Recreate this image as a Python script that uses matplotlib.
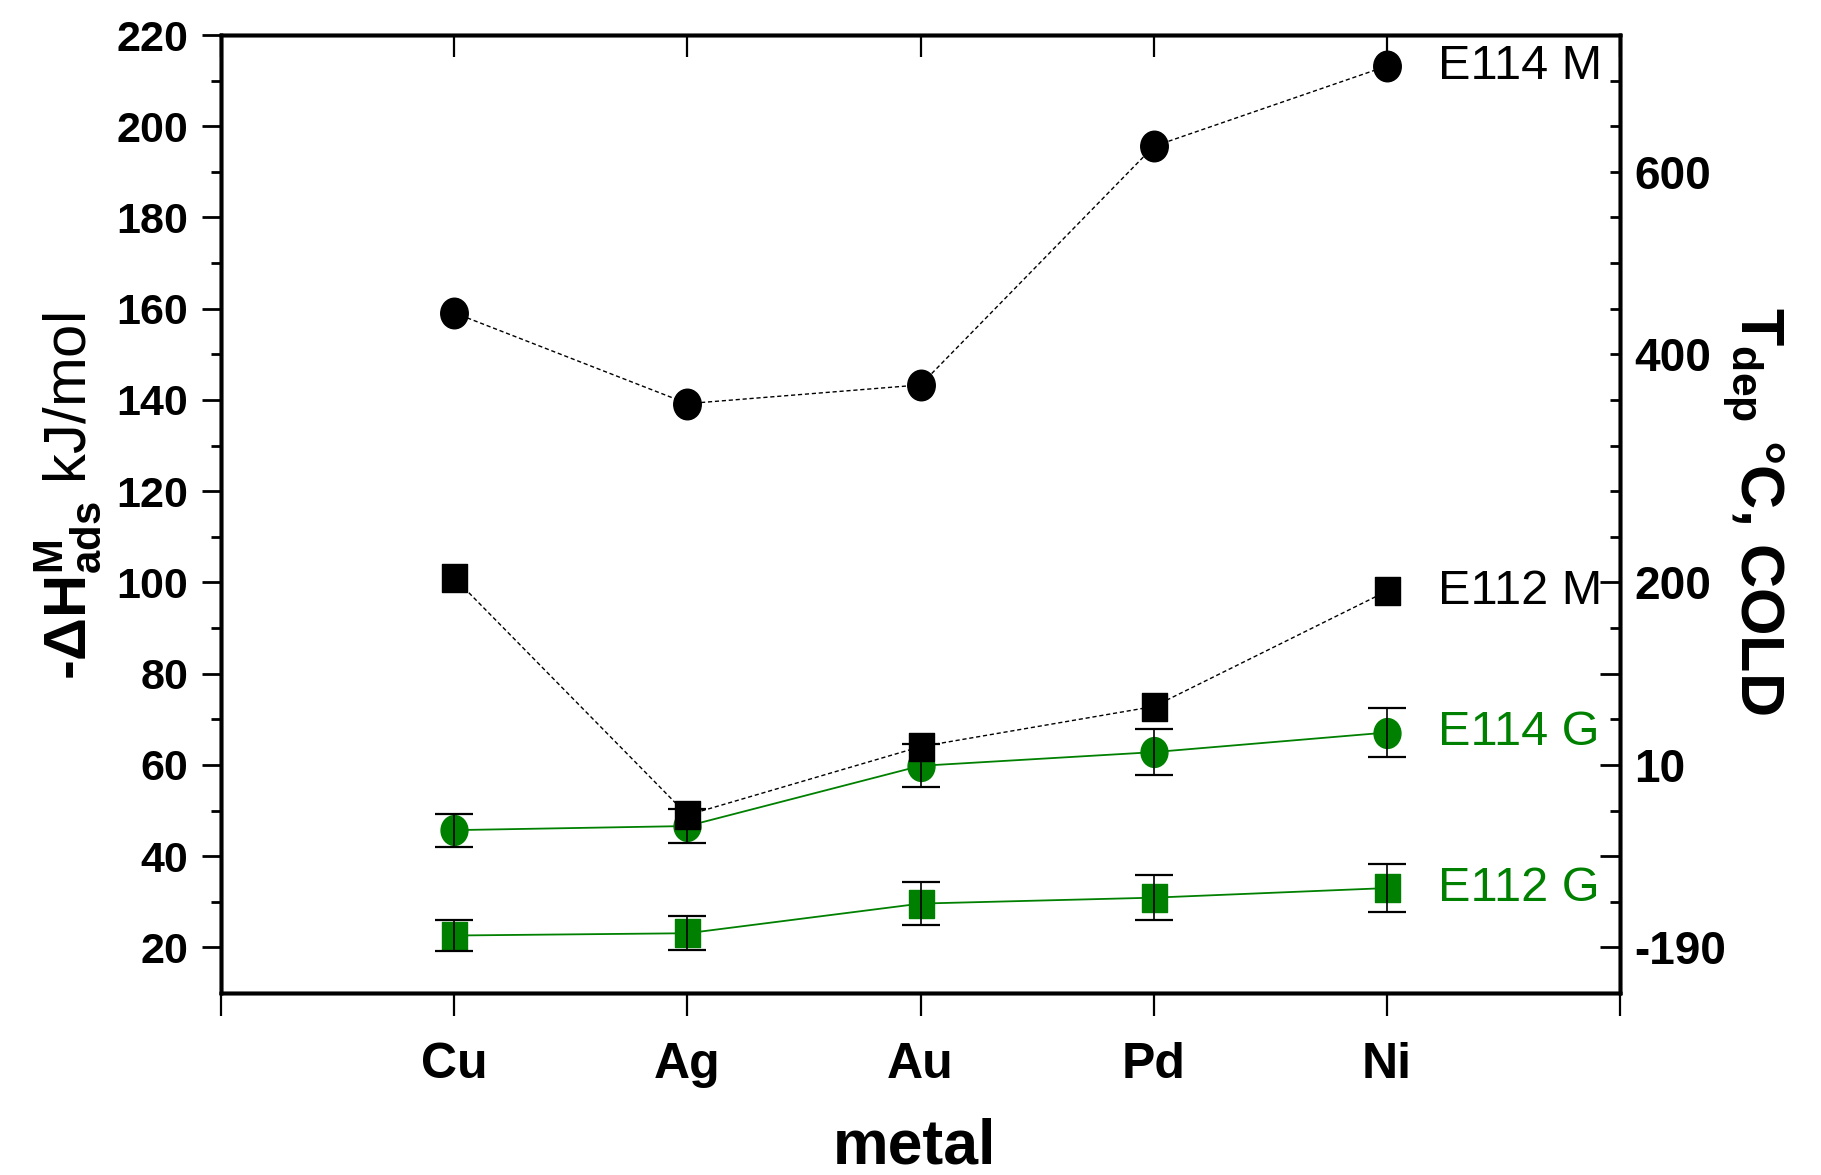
import matplotlib
matplotlib.use("Agg")
import matplotlib.pyplot as plt
from matplotlib import font_manager
from matplotlib.path import Path
from matplotlib.transforms import Affine2D

# --- data (left axis: -dH_ads in kJ/mol) ---
metals = ["Cu", "Ag", "Au", "Pd", "Ni"]
e114_m = [159.1, 139.2, 143.3, 195.6, 213.2]
e112_m = [101.0, 49.0, 64.0, 72.8, 98.1]
e114_g = [45.7, 46.6, 59.8, 62.8, 67.1]
e114_g_err = [3.6, 3.8, 4.7, 5.1, 5.4]
e112_g = [22.6, 23.1, 29.6, 30.9, 33.0]
e112_g_err = [3.5, 3.7, 4.7, 4.9, 5.2]
series_names = ["E114 M", "E112 M", "E114 G", "E112 G"]

# right axis (T_dep, COLD) is only a relabelling of left-axis positions
tdep_major_pos = [20, 40, 60, 80, 100]
tdep_major_lab = ["-190", "", "10", "", "200"]
tdep_minor_pos = [30, 50, 70, 90, 110, 120, 130, 140, 150, 160, 170, 180, 190, 200, 210]
tdep_minor_lab = ["", "", "", "", "", "", "", "", "400", "", "", "", "600", "", ""]

GREEN = "#008000"

names = {f.name for f in font_manager.fontManager.ttflist}
narrow = "Liberation Sans Narrow" if "Liberation Sans Narrow" in names else "Liberation Sans"
plt.rcParams["font.family"] = ["Liberation Sans", "DejaVu Sans"]
plt.rcParams["mathtext.fontset"] = "custom"
plt.rcParams["mathtext.rm"] = "Liberation Sans"
plt.rcParams["mathtext.bf"] = "Liberation Sans:bold"
plt.rcParams["mathtext.it"] = "Liberation Sans:italic"

# slightly tall markers, like the original
ellipse = Path.unit_circle().transformed(Affine2D().scale(0.9, 1.0))
rect = Path.unit_rectangle().transformed(Affine2D().translate(-0.5, -0.5).scale(0.9, 1.0))

fig = plt.figure(figsize=(18.21, 11.75), dpi=100)
ax = fig.add_axes([0.1214, 0.1549, 0.7683, 0.8153])

x = list(range(1, len(metals) + 1))

ax.plot(x, e114_g, color=GREEN, lw=1.3, marker=ellipse, ms=21.5, zorder=2)
ax.plot(x, e112_g, color=GREEN, lw=1.3, marker=rect, ms=20, zorder=2)
ax.errorbar(x, e114_g, yerr=e114_g_err, fmt="none", ecolor="black",
            elinewidth=1.2, capsize=14, capthick=1.6, zorder=3)
ax.errorbar(x, e112_g, yerr=e112_g_err, fmt="none", ecolor="black",
            elinewidth=1.2, capsize=14, capthick=1.6, zorder=3)
ax.plot(x, e114_m, color="black", lw=1.0, ls=(0, (3, 2)), marker=ellipse, ms=22, zorder=4)
ax.plot(x, e112_m, color="black", lw=1.0, ls=(0, (3, 2)), marker=rect, ms=20, zorder=4)

# series labels next to the Ni point
last = [e114_m[-1], e112_m[-1], e114_g[-1], e112_g[-1]]
colors = ["black", "black", GREEN, GREEN]
for name, yv, c in zip(series_names, last, colors):
    ax.text(5.22, yv, name, color=c, fontsize=35, va="center", ha="left", zorder=5)

ax.set_xlim(0, 6)
ax.set_ylim(10, 220)

for sp in ax.spines.values():
    sp.set_linewidth(2.5)

ax.set_xticks(range(0, 7))
ax.set_xticklabels([""] + metals + [""], fontsize=36, fontweight="bold", family=narrow)
ax.tick_params(axis="x", direction="out", length=16.5, width=1.6, pad=19)

ax.set_yticks(range(20, 221, 20))
ax.set_yticks(range(30, 220, 20), minor=True)
ax.set_yticklabels([str(v) for v in range(20, 221, 20)], fontsize=31,
                   fontweight="bold", family=narrow)
ax.tick_params(axis="y", which="major", direction="out", length=13.7, width=2.0, pad=10)
ax.tick_params(axis="y", which="minor", direction="out", length=7.2, width=2.0)

# right axis: relabelled positions, ticks pointing inward
ax2 = ax.twinx()
ax2.set_ylim(ax.get_ylim())
ax2.set_yticks(tdep_major_pos, labels=tdep_major_lab, fontsize=33, fontweight="bold")
ax2.set_yticks(tdep_minor_pos, labels=tdep_minor_lab, minor=True, fontsize=33, fontweight="bold")
ax2.tick_params(axis="y", which="major", direction="in", length=14.4, width=2.0, pad=10)
ax2.tick_params(axis="y", which="minor", direction="in", length=7.2, width=2.0, pad=10)
for sp in ax2.spines.values():
    sp.set_linewidth(2.5)

# top ticks, inward
axt = ax.twiny()
axt.set_xlim(ax.get_xlim())
axt.set_xticks(range(0, 7))
axt.set_xticklabels([])
axt.tick_params(axis="x", direction="in", length=16, width=1.6)
for sp in axt.spines.values():
    sp.set_linewidth(2.5)

# axis titles
fig.text(0.0379, 1 - 496 / 1175,
         r"-$\mathbf{\Delta H}^{\mathbf{M}}_{\mathbf{ads}}\ \mathrm{kJ/mol}$",
         rotation=90, ha="center", va="center", fontsize=43, fontweight="bold")
fig.text(0.9627, 1 - 511 / 1175, r"$\mathbf{T}_{\mathbf{dep}}$ °C, COLD",
         rotation=270, ha="center", va="center", fontsize=44, fontweight="bold")
fig.text(914 / 1821, 1 - 1163 / 1175, "metal", ha="center", va="baseline",
         fontsize=45, fontweight="bold", family=narrow)

fig.savefig("out.png", dpi=100)
